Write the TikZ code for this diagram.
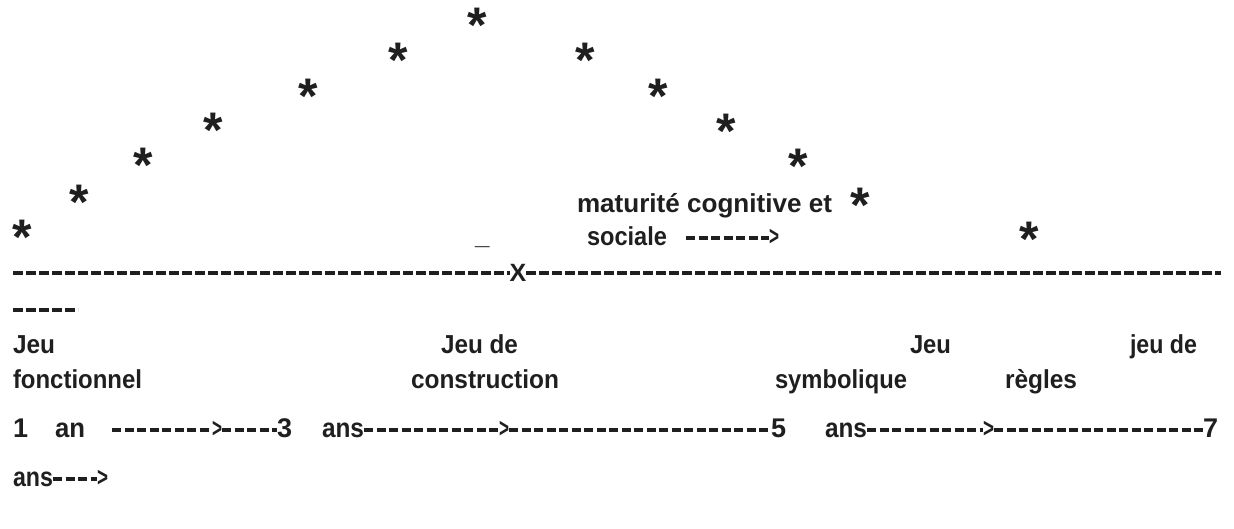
\documentclass[tikz,border=0pt]{standalone}
\usepackage{fontspec}
\setmainfont{Liberation Sans}
\usepackage{graphicx}
\newcommand\fitw[2]{\resizebox{#1pt}{\height}{#2}}
\newcommand\astk{\raisebox{-0.78em}{*}}
\begin{document}
\begin{tikzpicture}[x=1pt,y=-1pt,
  every node/.style={inner sep=0pt, outer sep=0pt, text=black!88},
  lab/.style={anchor=base west, font=\fontsize{26}{30}\selectfont\bfseries},
  num/.style={anchor=base west, font=\fontsize{27}{30}\selectfont\bfseries, text height=14pt, text depth=0pt},
  star/.style={anchor=center, font=\fontsize{50}{50}\selectfont\bfseries},
  xmark/.style={anchor=center, font=\fontsize{25}{25}\selectfont\bfseries},
  dashline/.style={draw=black!88, line width=3.2pt, dash pattern=on 9.5pt off 3.5pt},
  tl/.style={draw=black!88, line width=3.2pt, dash pattern=on 9pt off 3.5pt}]
\useasboundingbox (0,0) rectangle (1234,528);

% asterisk curve
\node[star] (s1) at (22,235) {\astk};
\node[star] (s2) at (79,200) {\astk};
\node[star] (s3) at (143,163) {\astk};
\node[star] (s4) at (213,128) {\astk};
\node[star] (s5) at (308,94) {\astk};
\node[star] (s6) at (398,58) {\astk};
\node[star] (s7) at (477,23) {\astk};
\node[star] (s8) at (585,58) {\astk};
\node[star] (s9) at (658,94) {\astk};
\node[star] (s10) at (726,129) {\astk};
\node[star] (s11) at (798,164) {\astk};
\node[star] (s12) at (860,203) {\astk};
\node[star] (s13) at (1029,237) {\astk};

% labels near the curve
\node[lab] (mat) at (577,212) {\fitw{255}{maturité cognitive et}};
\node[lab] (soc) at (587,245) {\fitw{80}{sociale}};
\node[num] (gtS) at (769,245) {\fitw{10}{>}};
\draw[tl] ([xshift=19pt]soc.east |- gtS.west) -- (gtS.west);
\node[lab] (und) at (475,244) {\_};

% dashed axis with X
\coordinate (dl) at (13,273);
\coordinate (dr) at (1221,273);
\node[xmark] (xm) at (518,273) {X};
\draw[dashline] (dl) -- (dl -| xm.west);
\draw[dashline] (dr -| xm.east) -- (dr);
\coordinate (dl2) at (13,310);
\coordinate (dr2) at (78,310);
\draw[dashline] (dl2) -- (dr2);

% play types
\node[lab] (jeu1) at (13,353) {\fitw{42}{Jeu}};
\node[lab] (fonc) at (13,388) {\fitw{129}{fonctionnel}};
\node[lab] (jeu2) at (441,353) {\fitw{77}{Jeu de}};
\node[lab] (cons) at (411,388) {\fitw{148}{construction}};
\node[lab] (jeu3) at (910,353) {\fitw{41}{Jeu}};
\node[lab] (symb) at (775,388) {\fitw{132}{symbolique}};
\node[lab] (regl) at (1005,388) {\fitw{72}{règles}};
\node[lab] (jeu4) at (1130,353) {\fitw{67}{jeu de}};

% age timeline
\node[num] (n1) at (13,437) {1};
\node[num] (an1) at (55,437) {\fitw{30}{an}};
\node[num] (gtA) at (212,437) {\fitw{10}{>}};
\node[num] (n3) at (277,437) {3};
\node[num] (ans1) at (322,437) {\fitw{42}{ans}};
\node[num] (gtB) at (499,437) {\fitw{10}{>}};
\node[num] (n5) at (771,437) {5};
\node[num] (ans2) at (825,437) {\fitw{42}{ans}};
\node[num] (gtC) at (983,437) {\fitw{11}{>}};
\node[num] (n7) at (1203,437) {7};
\node[num] (ans3) at (13,486) {\fitw{40}{ans}};
\node[num] (gtD) at (97,486) {\fitw{11}{>}};

\draw[tl] ([xshift=27pt]an1.east) -- (gtA.west);
\draw[tl] (gtA.east) -- (n3.west);
\draw[tl] (ans1.east) -- (gtB.west);
\draw[tl] (gtB.east) -- (n5.west);
\draw[tl] (ans2.east) -- (gtC.west);
\draw[tl] (gtC.east) -- (n7.west);
\draw[tl] (ans3.east) -- (gtD.west);
\end{tikzpicture}
\end{document}
